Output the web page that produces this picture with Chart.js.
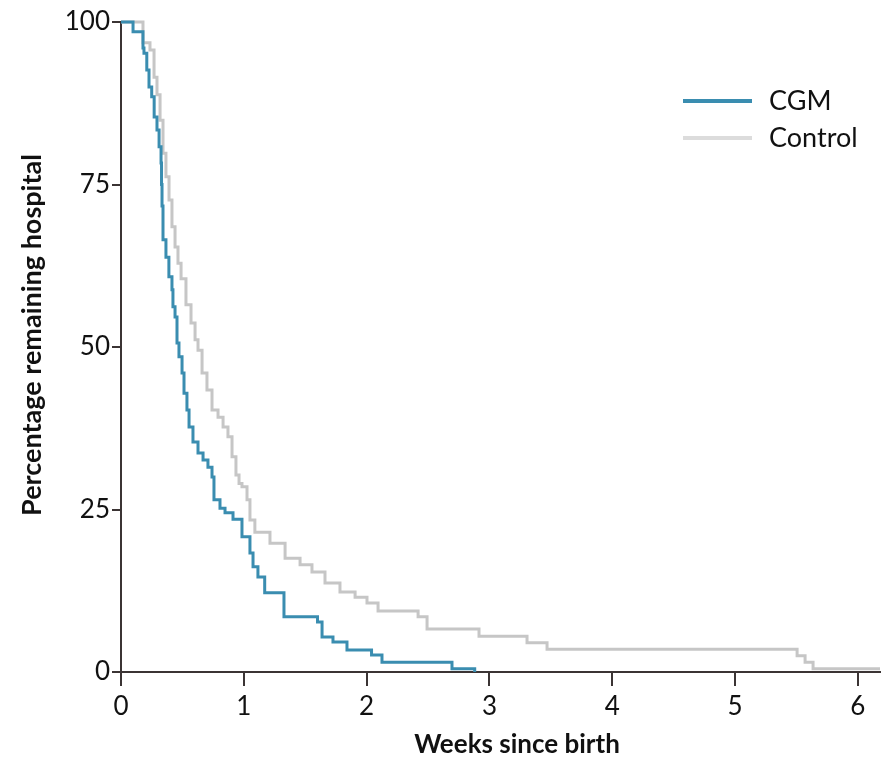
<!DOCTYPE html>
<html>
<head>
<meta charset="utf-8">
<script src="https://cdn.jsdelivr.net/npm/chart.js@4.4.1/dist/chart.umd.min.js"></script>
<style>
  html, body { margin: 0; padding: 0; background: #fff; }
  #wrap { width: 888px; height: 757px; position: relative; }
</style>
</head>
<body>
<div id="wrap"><canvas id="km"></canvas></div>
<script>
// Time in hospital, Kaplan-Meier style (weeks since birth vs % still in hospital)
const cgmWeeks = [0, 0.098, 0.179, 0.187, 0.21, 0.228, 0.25, 0.27, 0.293, 0.31, 0.326, 0.33, 0.334, 0.342,
  0.366, 0.39, 0.415, 0.423, 0.44, 0.456, 0.472, 0.497, 0.513, 0.537, 0.554, 0.586, 0.627, 0.668, 0.708,
  0.741, 0.757, 0.806, 0.847, 0.912, 0.985, 1.05, 1.075, 1.115, 1.17, 1.327, 1.6, 1.637, 1.726, 1.84,
  2.04, 2.125, 2.695, 2.88];
const cgmPct = [100, 98.5, 96, 95.2, 92.6, 90, 88.5, 85.4, 83.4, 80.8, 78.3, 75, 71.7, 66.5,
  63.8, 60.8, 58.8, 56.2, 54.6, 50.6, 48.5, 46, 42.9, 40.3, 37.7, 35.4, 33.7, 32.6, 31.5,
  30, 26.5, 25.2, 24.5, 23.5, 20.8, 18.3, 16.2, 14.6, 12.2, 8.5, 7.7, 5.4, 4.6, 3.4,
  2.6, 1.5, 0.5, 0];

const controlWeeks = [0, 0.179, 0.236, 0.269, 0.293, 0.318, 0.342, 0.366, 0.391, 0.415, 0.44, 0.464,
  0.489, 0.529, 0.57, 0.603, 0.627, 0.66, 0.7, 0.741, 0.79, 0.831, 0.871, 0.904, 0.936, 0.961, 0.985,
  1.026, 1.05, 1.09, 1.213, 1.336, 1.458, 1.555, 1.661, 1.783, 1.906, 2.003, 2.093, 2.419, 2.492,
  2.915, 3.306, 3.469, 5.505, 5.57, 5.635, 6.18];
const controlPct = [100, 96.8, 95.7, 91.5, 88.8, 84.9, 79.8, 76.2, 72.6, 68.5, 65.4, 62.9,
  60.5, 56.5, 53.7, 51.1, 49.5, 46, 43.4, 40.3, 39.2, 37.7, 36.2, 33.1, 30.3, 29, 28.5,
  26.5, 23.4, 21.5, 19.8, 17.5, 16.5, 15.4, 13.7, 12.3, 11.5, 10.6, 9.4, 8.5, 6.6,
  5.5, 4.5, 3.5, 2.5, 1.5, 0.5, 0.5];

const xTicks = [0, 1, 2, 3, 4, 5, 6];
const yTicks = [0, 25, 50, 75, 100];

const xTitle = 'Weeks since birth';
const yTitle = 'Percentage remaining hospital';

const AXIS = '#3b3434';
const FONT = "Lato, 'Open Sans', sans-serif";

const toPoints = (xs, ys) => xs.map((x, i) => ({ x: x, y: ys[i] }));

// legend inside the plot (top right) plus the two axis titles
const annotations = {
  id: 'annotations',
  afterDraw(chart, args, opts) {
    const ctx = chart.ctx;
    ctx.save();
    ctx.textBaseline = 'middle';
    chart.data.datasets.forEach((ds, i) => {
      const y = opts.legendTop + i * opts.rowGap;
      ctx.strokeStyle = ds.legendColor || ds.borderColor;
      ctx.lineWidth = 4;
      ctx.beginPath();
      ctx.moveTo(opts.lineStart, y);
      ctx.lineTo(opts.lineEnd, y);
      ctx.stroke();
      ctx.fillStyle = '#111';
      ctx.font = `${opts.legendSize}px ${FONT}`;
      ctx.textAlign = 'left';
      ctx.fillText(ds.label, opts.textX, y);
    });

    ctx.fillStyle = '#111';
    ctx.textAlign = 'center';
    ctx.font = `bold ${opts.titleSize}px ${FONT}`;
    ctx.fillText(xTitle, opts.xTitleX, opts.xTitleY);

    ctx.translate(opts.yTitleX, opts.yTitleY);
    ctx.rotate(-Math.PI / 2);
    ctx.font = `bold ${opts.yTitleSize}px ${FONT}`;
    ctx.fillText(yTitle, 0, 0);
    ctx.restore();
  }
};

new Chart(document.getElementById('km'), {
  type: 'line',
  data: {
    datasets: [
      {
        label: 'CGM',
        data: toPoints(cgmWeeks, cgmPct),
        borderColor: '#3a8db0',
        borderWidth: 3,
        stepped: 'before',
        pointRadius: 0,
        fill: false,
        clip: false,
      },
      {
        label: 'Control',
        data: toPoints(controlWeeks, controlPct),
        borderColor: '#c6c6c6',
        legendColor: '#dcdcdc',
        borderWidth: 3,
        stepped: 'before',
        pointRadius: 0,
        fill: false,
        clip: false,
      },
    ]
  },
  options: {
    responsive: true,
    maintainAspectRatio: false,
    animation: false,
    layout: { padding: { top: 22, right: 8, left: 0, bottom: 0 } },
    plugins: {
      legend: { display: false },
      tooltip: { enabled: false },
      annotations: {
        legendTop: 101, rowGap: 37, lineStart: 683, lineEnd: 752, textX: 769, legendSize: 27,
        titleSize: 26, xTitleX: 517, xTitleY: 745,
        yTitleSize: 27, yTitleX: 32, yTitleY: 335,
      },
    },
    scales: {
      x: {
        type: 'linear',
        min: 0,
        max: 6.18,
        afterBuildTicks: s => { s.ticks = xTicks.map(v => ({ value: v })); },
        afterFit: s => { s.height = 85; },
        grid: { drawOnChartArea: false, drawTicks: true, tickLength: 14, color: AXIS, lineWidth: 2 },
        border: { color: AXIS, width: 2 },
        ticks: { color: '#111', font: { size: 26, family: FONT }, padding: 5, maxRotation: 0 },
      },
      y: {
        min: 0,
        max: 100,
        afterBuildTicks: s => { s.ticks = yTicks.map(v => ({ value: v })); },
        afterFit: s => { s.width = 121; },
        grid: { drawOnChartArea: false, drawTicks: true, tickLength: 9, color: AXIS, lineWidth: 2 },
        border: { color: AXIS, width: 2 },
        ticks: { color: '#111', font: { size: 26, family: FONT }, padding: 2 },
      }
    }
  },
  plugins: [annotations],
});
</script>
</body>
</html>
